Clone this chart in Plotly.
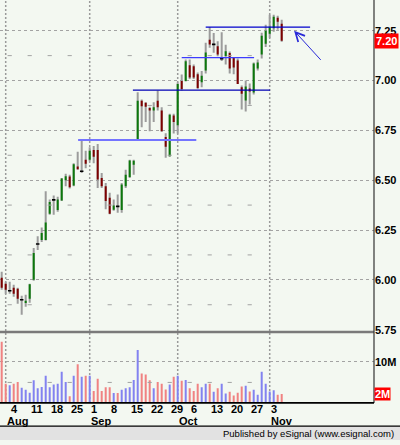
import pandas as pd
import plotly.graph_objects as go

# ---------------------------------------------------------------- data ----
dates = pd.bdate_range("2003-07-31", periods=71)

opens = [6.010, 5.980, 5.944, 5.960, 5.955, 5.899, 5.885, 5.905, 6.000, 6.178,
         6.200, 6.200, 6.332, 6.400, 6.350, 6.398, 6.500, 6.519, 6.473, 6.569,
         6.544, 6.602, 6.602, 6.651, 6.651, 6.511, 6.470, 6.412, 6.352, 6.370,
         6.350, 6.470, 6.516, 6.578, 6.701, 6.899, 6.888, 6.862, 6.850, 6.899,
         6.850, 6.717, 6.620, 6.825, 6.775, 6.998, 6.998, 7.076, 7.072, 7.032,
         6.991, 7.050, 7.205, 7.180, 7.172, 7.108, 7.123, 7.138, 7.115, 7.100,
         6.966, 6.900, 6.960, 6.940, 7.060, 7.131, 7.185, 7.235, 7.262, 7.315,
         7.285]
highs = [6.040, 5.990, 5.990, 5.975, 5.960, 5.920, 5.925, 5.980, 6.160, 6.218,
         6.263, 6.445, 6.403, 6.423, 6.417, 6.511, 6.532, 6.527, 6.585, 6.643,
         6.700, 6.647, 6.665, 6.671, 6.681, 6.536, 6.486, 6.437, 6.403, 6.428,
         6.486, 6.552, 6.602, 6.602, 6.941, 6.905, 6.891, 6.868, 6.891, 6.950,
         6.866, 6.735, 6.833, 6.833, 6.990, 7.030, 7.106, 7.106, 7.081, 7.040,
         7.048, 7.190, 7.268, 7.239, 7.197, 7.242, 7.180, 7.145, 7.115, 7.110,
         6.975, 7.000, 6.985, 7.090, 7.105, 7.240, 7.280, 7.330, 7.330, 7.325,
         7.305]
lows = [5.950, 5.930, 5.930, 5.915, 5.880, 5.825, 5.865, 5.885, 5.995, 6.150,
        6.190, 6.197, 6.326, 6.326, 6.341, 6.395, 6.470, 6.458, 6.470, 6.552,
        6.536, 6.560, 6.595, 6.585, 6.461, 6.461, 6.354, 6.329, 6.346, 6.337,
        6.337, 6.461, 6.511, 6.527, 6.700, 6.765, 6.792, 6.745, 6.792, 6.850,
        6.743, 6.612, 6.618, 6.734, 6.734, 6.950, 6.995, 7.007, 7.007, 6.957,
        6.966, 7.035, 7.164, 7.139, 7.122, 7.098, 7.080, 7.035, 7.032, 6.982,
        6.855, 6.845, 6.880, 6.930, 7.050, 7.110, 7.168, 7.215, 7.245, 7.255,
        7.195]
closes = [5.960, 5.950, 5.946, 5.930, 5.905, 5.901, 5.895, 5.978, 6.135, 6.181,
          6.235, 6.288, 6.390, 6.402, 6.403, 6.508, 6.520, 6.465, 6.580, 6.555,
          6.546, 6.582, 6.648, 6.618, 6.503, 6.470, 6.395, 6.332, 6.373, 6.367,
          6.478, 6.527, 6.599, 6.598, 6.899, 6.871, 6.868, 6.850, 6.866, 6.866,
          6.745, 6.668, 6.828, 6.792, 6.982, 6.958, 7.097, 7.015, 7.015, 6.962,
          7.024, 7.140, 7.181, 7.183, 7.131, 7.110, 7.147, 7.060, 7.065, 6.982,
          6.933, 6.970, 6.945, 7.085, 7.090, 7.225, 7.250, 7.270, 7.320, 7.295,
          7.200]
volume_m = [14.9, 4.7, 4.3, 4.7, 5.1, 3.7, 3.2, 2.5, 5.5, 3.6,
            3.9, 6.6, 3.8, 4.5, 4.7, 7.6, 5.1, 1.6, 6.6, 9.4,
            6.4, 6.6, 6.6, 2.9, 5.9, 2.9, 3.8, 3.8, 2.4, 2.4,
            3.2, 3.6, 3.8, 5.6, 12.9, 7.2, 6.9, 5.5, 3.6, 5.1,
            4.7, 3.3, 4.5, 6.4, 6.6, 5.4, 5.6, 3.6, 2.9, 4.7,
            3.8, 4.7, 4.7, 2.7, 3.6, 4.7, 2.3, 2.7, 1.8, 2.5,
            4.0, 4.2, 2.8, 3.2, 2.0, 7.6, 4.7, 2.8, 3.1, 2.0,
            2.2]

price_ticks = [5.75, 6.00, 6.25, 6.50, 6.75, 7.00, 7.25]
volume_ticks = [10]

# hand-drawn support / resistance levels: price, first bar, last bar
level_prices = [6.702, 6.952, 7.115, 7.268]
level_from = [19.1, 32.8, 45.0, 51.0]
level_to = [48.65, 67.1, 63.1, 77.1]

# ------------------------------------------------------------- geometry ---
W, H = 400, 445
X_RIGHT = 374 / W                       # right edge of the chart panes
PRICE_DOM = [1 - 334 / H, 1.0]
VOL_DOM = [1 - 407.5 / H, 1 - 337 / H]
X_RANGE = [-0.425, 93.075]

BG = "#f3f8f1"
GRID = "#a3a3a3"
UP_BODY, DOWN_BODY, WICK = "#0b780b", "#7d0000", "#9c9c9c"
VOL_UP, VOL_DOWN = "#8282f0", "#f08282"
AX_FONT = dict(family="Liberation Sans, Arial, sans-serif", size=11,
               color="black", weight="bold")
DATE_FONT = dict(family="Liberation Sans Narrow, Liberation Sans, Arial",
                 size=11, color="black", weight="bold")

idx = list(range(len(dates)))
DOJI = 0.004

body_x, body_base, body_h, body_col = [], [], [], []
doji_x, doji_y = [], []
for k, (o, c) in enumerate(zip(opens, closes)):
    if abs(c - o) <= DOJI:
        doji_x.append(k)
        doji_y.append((o + c) / 2)
    else:
        body_x.append(k)
        body_base.append(min(o, c))
        body_h.append(abs(c - o))
        body_col.append(UP_BODY if c > o else DOWN_BODY)

vol_col = [VOL_UP if c >= o else VOL_DOWN for o, c in zip(opens, closes)]

month_starts = [k for k in idx[1:] if dates[k].month != dates[k - 1].month]
mondays = [k for k in idx if dates[k].weekday() == 0]
week_marks = [k for k in mondays if k not in month_starts]

fig = go.Figure()

# high-low range of every session
fig.add_trace(go.Bar(x=idx, base=lows, y=[h - l for h, l in zip(highs, lows)],
                     width=0.5, marker=dict(color=WICK, line_width=0),
                     hoverinfo="skip", xaxis="x", yaxis="y"))
# open-close bodies
fig.add_trace(go.Bar(x=body_x, base=body_base, y=body_h, width=0.5,
                     marker=dict(color=body_col, line_width=0),
                     hoverinfo="skip", xaxis="x", yaxis="y"))
# sessions that closed at their open
fig.add_trace(go.Scatter(x=doji_x, y=doji_y, mode="markers",
                         marker=dict(symbol="line-ew", size=2.5,
                                     line=dict(color="black", width=1.6)),
                         hoverinfo="skip", xaxis="x", yaxis="y"))

# minor grid ticks between the price levels
half_levels = [p + 0.125 for p in price_ticks[:-1]]
fig.add_trace(go.Scatter(
    x=[k for _ in half_levels for k in week_marks],
    y=[p for p in half_levels for _ in week_marks],
    mode="markers",
    marker=dict(symbol="line-ew", size=3, line=dict(color=GRID, width=1)),
    hoverinfo="skip", xaxis="x", yaxis="y"))

# volume
fig.add_trace(go.Bar(x=idx, y=volume_m, width=0.5,
                     marker=dict(color=vol_col, line_width=0),
                     hoverinfo="skip", xaxis="x2", yaxis="y2"))
fig.add_trace(go.Scatter(
    x=week_marks, y=[v / 2 for v in volume_ticks for _ in week_marks],
    mode="markers",
    marker=dict(symbol="line-ew", size=3, line=dict(color=GRID, width=1)),
    hoverinfo="skip", xaxis="x2", yaxis="y2"))

shapes = []
# month separators through both panes
for k in month_starts:
    shapes.append(dict(type="line", xref="x", yref="paper", x0=k, x1=k,
                       y0=VOL_DOM[0], y1=1,
                       line=dict(color="#9a9a9a", width=1.5, dash="2px,2px"),
                       layer="below"))
# support / resistance lines
level_colors = ["#7474ff", "#0000b4", "#3c3cff", "#0000cc"]
level_widths = [2, 1.3, 1.3, 1.3]
for p, a, b, col, w in zip(level_prices, level_from, level_to,
                           level_colors, level_widths):
    shapes.append(dict(type="line", xref="x", yref="y", x0=a, x1=b,
                       y0=p, y1=p, line=dict(color=col, width=w)))
# pane separator, frame and footer band
shapes += [
    dict(type="rect", xref="paper", yref="paper", x0=0, x1=X_RIGHT,
         y0=1 - 337 / H, y1=1 - 334.5 / H, fillcolor="#7a7a7a", line_width=0),
    dict(type="line", xref="paper", yref="paper", x0=X_RIGHT, x1=X_RIGHT,
         y0=VOL_DOM[0], y1=1, line=dict(color="#333333", width=1.2)),
    dict(type="line", xref="paper", yref="paper", x0=0, x1=X_RIGHT,
         y0=VOL_DOM[0], y1=VOL_DOM[0], line=dict(color="black", width=1.6)),
    dict(type="rect", xref="paper", yref="paper", x0=0, x1=1,
         y0=0, y1=14 / H, fillcolor="#e2e2e2", line_width=0),
    dict(type="line", xref="paper", yref="paper", x0=0, x1=1,
         y0=14 / H, y1=14 / H, line=dict(color="black", width=1.2)),
]

annotations = []
for k in mondays:
    annotations.append(dict(x=k, y=1 - 414 / H, xref="x", yref="paper",
                            text=str(dates[k].day), showarrow=False,
                            xanchor="left", yanchor="middle", font=DATE_FONT,
                            borderpad=0))
for k in month_starts:
    annotations.append(dict(x=k, y=1 - 425.5 / H, xref="x", yref="paper",
                            text=dates[k].strftime("%b"), showarrow=False,
                            xanchor="left", yanchor="middle", font=DATE_FONT,
                            borderpad=0))
# last price and last volume flags on the scales
annotations.append(dict(x=X_RIGHT, y=closes[-1], xref="paper", yref="y",
                        text=f"{closes[-1]:.2f}", showarrow=False,
                        xanchor="left", yanchor="middle", bgcolor="#ff0000",
                        borderpad=1, font=dict(AX_FONT, color="white")))
annotations.append(dict(x=X_RIGHT, y=volume_m[-1], xref="paper", yref="y2",
                        text=f"{round(volume_m[-1])}M", showarrow=False,
                        xanchor="left", yanchor="middle", bgcolor="#ff0000",
                        borderpad=0, font=dict(AX_FONT, color="white")))
# arrow pointing at the breakout
annotations.append(dict(x=73.1, y=7.25, ax=80.1, ay=7.096, xref="x", yref="y",
                        axref="x", ayref="y", text="", showarrow=True,
                        arrowhead=5, arrowsize=1.8, arrowwidth=1,
                        arrowcolor="#2a2ad8"))
annotations.append(dict(x=395 / W, y=6.5 / H, xref="paper", yref="paper",
                        text="Published by eSignal (www.esignal.com)",
                        showarrow=False, xanchor="right", yanchor="middle",
                        borderpad=0,
                        font=dict(family="Liberation Sans, Arial", size=9.5,
                                  color="black")))

axis_common = dict(showgrid=True, gridcolor=GRID, griddash="3px,3px",
                   gridwidth=1, zeroline=False, showline=False, ticks="",
                   side="right", tickfont=AX_FONT, fixedrange=True)

fig.update_layout(
    width=W, height=H, margin=dict(l=0, r=0, t=0, b=0),
    paper_bgcolor=BG, plot_bgcolor=BG, showlegend=False,
    barmode="overlay", shapes=shapes, annotations=annotations,
    xaxis=dict(domain=[0, X_RIGHT], range=X_RANGE, anchor="y",
               showticklabels=False, showgrid=False, zeroline=False,
               fixedrange=True),
    xaxis2=dict(domain=[0, X_RIGHT], range=X_RANGE, anchor="y2", matches="x",
                showticklabels=False, showgrid=False, zeroline=False,
                fixedrange=True),
    yaxis=dict(domain=PRICE_DOM, range=[5.747, 7.404], anchor="x",
               tickvals=price_ticks,
               ticktext=[f"{p:.2f}" for p in price_ticks], **axis_common),
    yaxis2=dict(domain=VOL_DOM, range=[0, 17.0], anchor="x2",
                tickvals=volume_ticks,
                ticktext=[f"{v}M" for v in volume_ticks], **axis_common),
)

fig.write_html("out.html", config={"displayModeBar": False})
